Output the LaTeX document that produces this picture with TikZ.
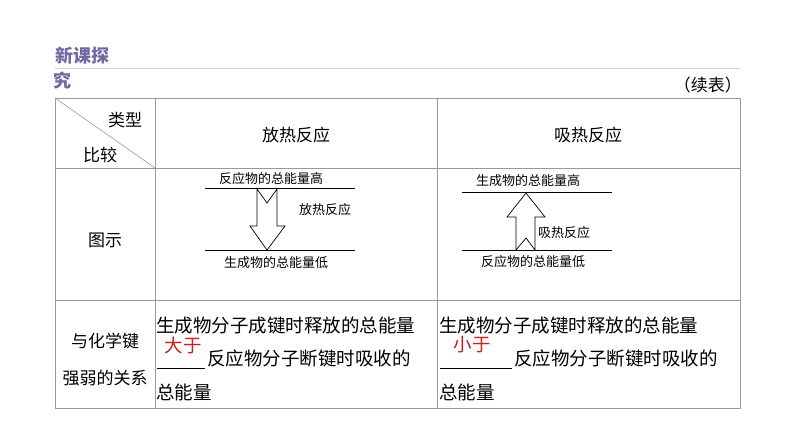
\documentclass[tikz,border=0pt]{standalone}
\usepackage{fontspec}
\setmainfont{Noto Sans CJK SC}
\usepackage{tikz}
\usetikzlibrary{arrows.meta,positioning,calc}
\definecolor{titlepurple}{RGB}{112,104,160}
\definecolor{ansred}{RGB}{200,30,30}

\begin{document}
\begin{tikzpicture}[
  x=1pt, y=-1pt,
  grid/.style={draw=gray!80, line width=0.8pt},
  cell/.style={font=\fontsize{17}{19}\selectfont, inner sep=0pt},
  body/.style={font=\fontsize{18.5}{20}\selectfont, inner sep=0pt},
  fig/.style={font=\fontsize{13}{15}\selectfont, inner sep=0pt},
  level/.style={line width=0.8pt},
  bigarrow/.style={draw, fill=white, line width=0.7pt}
]
\useasboundingbox (0,0) rectangle (794,447);

% heading
\node[font=\bfseries\fontsize{18}{20}\selectfont, text=titlepurple, inner sep=0pt] (title1) at (82,56) {新课探};
\node[font=\bfseries\fontsize{18}{20}\selectfont, text=titlepurple, inner sep=0pt, anchor=west] (title2) at (53,81) {究};
\draw[gray!35] (55,68) -- (740,68);
\node[cell, anchor=east] (cont) at (742,85) {（续表）};

% table
\draw[grid] (55,98) rectangle (740,408);
\draw[grid] (155,98) -- (155,408);
\draw[grid] (437,98) -- (437,408);
\draw[grid] (55,168) -- (740,168);
\draw[grid] (55,300) -- (740,300);
\draw[gray!80, line width=0.6pt] (55,98) -- (155,168);

\node[cell] (type) at (125,120) {类型};
\node[cell] (cmp) at (100,155) {比较};
\node[cell] (exo) at (296,135) {放热反应};
\node[cell] (endo) at (588,135) {吸热反应};
\node[cell] (pic) at (105,240) {图示};
\node[cell] (rel1) at (105,341) {与化学键};
\node[cell] (rel2) at (105,378) {强弱的关系};

% exothermic figure
\draw[level] (205,188) -- (355,188);
\draw[level] (205,250) -- (355,250);
\node[fig] (exohi) at (271,179) {反应物的总能量高};
\node[fig] (exolo) at (276,263) {生成物的总能量低};
\draw[bigarrow] (257,189) -- (267,203) -- (277,189) -- (277,226) -- (285,226)
  -- (267,250) -- (250,226) -- (257,226) -- cycle;
\node[fig, anchor=west] (exolab) at (299,210) {放热反应};

% endothermic figure
\draw[level] (462,192) -- (612,192);
\draw[level] (462,250) -- (612,250);
\node[fig] (endohi) at (528,181) {生成物的总能量高};
\node[fig] (endolo) at (533,262) {反应物的总能量低};
\draw[bigarrow] (526,193) -- (545,217) -- (535,217) -- (535,250) -- (526,238)
  -- (516,250) -- (516,217) -- (507,217) -- cycle;
\node[fig, anchor=west] (endolab) at (538,233) {吸热反应};

% relation texts
\node[body, anchor=west] (l1) at (156,325) {生成物分子成键时释放的总能量};
\draw[line width=0.6pt] (157,368) -- (205,368);
\node[body, text=ansred] (ansl) at (183,345) {大于};
\node[body, anchor=west] (l2) at (207,358) {反应物分子断键时吸收的};
\node[body, anchor=west] (l3) at (156,392) {总能量};

\node[body, anchor=west] (r1) at (439,325) {生成物分子成键时释放的总能量};
\draw[line width=0.6pt] (440,368) -- (512,368);
\node[body, text=ansred] (ansr) at (472,345) {小于};
\node[body, anchor=west] (r2) at (514,358) {反应物分子断键时吸收的};
\node[body, anchor=west] (r3) at (439,392) {总能量};
\end{tikzpicture}
\end{document}
